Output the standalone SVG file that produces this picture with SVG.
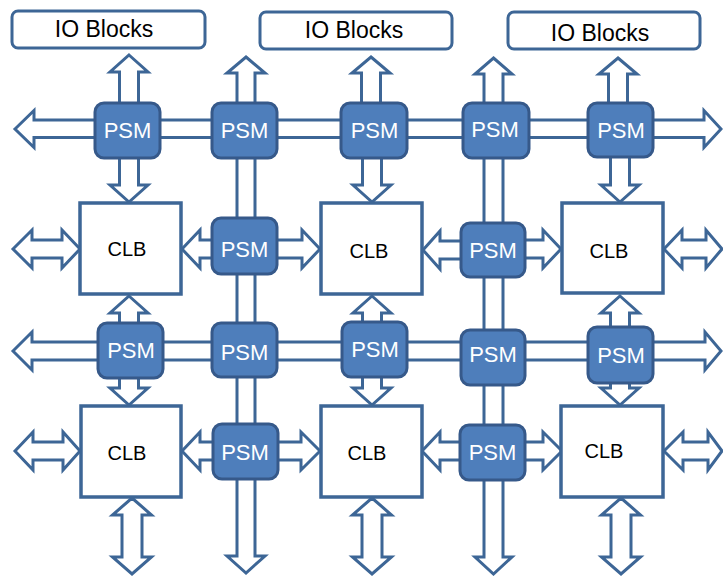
<svg xmlns="http://www.w3.org/2000/svg" width="723" height="576" viewBox="0 0 723 576">
<style>
.bg{fill:#ffffff}
.ar{fill:#ffffff;stroke:#3D6696;stroke-width:3;stroke-linejoin:miter}
.clb{fill:#ffffff;stroke:#3D6696;stroke-width:3.5}
.io{fill:#ffffff;stroke:#3D6696;stroke-width:3}
.psm{fill:#4E7EBB;stroke:#36598A;stroke-width:3}
.tp{font-family:"Liberation Sans",Arial,sans-serif;font-size:22px;fill:#ffffff;text-anchor:middle}
.tc{font-family:"Liberation Sans",Arial,sans-serif;font-size:20px;fill:#000000;text-anchor:middle}
.ti{font-family:"Liberation Sans",Arial,sans-serif;font-size:23px;fill:#000000;text-anchor:middle}
</style>
<rect class="bg" x="0" y="0" width="723" height="576"/>
<g id="connectors">
<path class="ar" d="M15,129 L34,110.5 L34,120 L704,120 L704,110.5 L721,129 L704,147.5 L704,137.5 L34,137.5 L34,147.5 Z"/>
<path class="ar" d="M13,351 L32,332 L32,342 L705,342 L705,332 L721,351 L705,370 L705,360 L32,360 L32,370 Z"/>
<path class="ar" d="M246,57 L265,73 L255,73 L255,556 L265,556 L246,573 L227,556 L237,556 L237,73 L227,73 Z"/>
<path class="ar" d="M493.5,58 L512,74 L503,74 L503,557 L512,557 L493.5,574 L475,557 L484,557 L484,74 L475,74 Z"/>
<path class="ar" d="M129,55 L148,72 L138.5,72 L138.5,115 L119.5,115 L119.5,72 L110,72 Z"/>
<path class="ar" d="M119.5,150 L138.5,150 L138.5,185 L148,185 L129,202 L110,185 L119.5,185 Z"/>
<path class="ar" d="M129,296 L148,313 L138.5,313 L138.5,330 L119.5,330 L119.5,313 L110,313 Z"/>
<path class="ar" d="M119.5,370 L138.5,370 L138.5,388 L148,388 L129,405 L110,388 L119.5,388 Z"/>
<path class="ar" d="M132,498 L151.5,515 L142,515 L142,557 L151.5,557 L132,574 L112.5,557 L122,557 L122,515 L112.5,515 Z"/>
<path class="ar" d="M371,57 L390,73 L380.5,73 L380.5,115 L361.5,115 L361.5,73 L352,73 Z"/>
<path class="ar" d="M362.5,150 L381.5,150 L381.5,185 L391,185 L372,202 L353,185 L362.5,185 Z"/>
<path class="ar" d="M372,296 L391,313 L381.5,313 L381.5,330 L362.5,330 L362.5,313 L353,313 Z"/>
<path class="ar" d="M362.5,370 L381.5,370 L381.5,388 L391,388 L372,405 L353,388 L362.5,388 Z"/>
<path class="ar" d="M372,498 L391.5,515 L382,515 L382,557 L391.5,557 L372,574 L352.5,557 L362,557 L362,515 L352.5,515 Z"/>
<path class="ar" d="M618,58 L637,74 L627.5,74 L627.5,115 L608.5,115 L608.5,74 L599,74 Z"/>
<path class="ar" d="M610.5,150 L629.5,150 L629.5,185 L639,185 L620,202 L601,185 L610.5,185 Z"/>
<path class="ar" d="M620,296 L639,313 L629.5,313 L629.5,335 L610.5,335 L610.5,313 L601,313 Z"/>
<path class="ar" d="M610.5,375 L629.5,375 L629.5,388 L639,388 L620,405 L601,388 L610.5,388 Z"/>
<path class="ar" d="M621,498 L640.5,515 L631,515 L631,557 L640.5,557 L621,574 L601.5,557 L611,557 L611,515 L601.5,515 Z"/>
<path class="ar" d="M13,249 L32,230 L32,240 L62,240 L62,230 L80,249 L62,268 L62,258 L32,258 L32,268 Z"/>
<path class="ar" d="M182,249 L200,230 L200,240 L220,240 L220,258 L200,258 L200,268 Z"/>
<path class="ar" d="M270,240 L302,240 L302,230 L320,249 L302,268 L302,258 L270,258 Z"/>
<path class="ar" d="M423,250 L440,231 L440,241 L468,241 L468,259 L440,259 L440,269 Z"/>
<path class="ar" d="M518,240 L543,240 L543,230 L561,249 L543,268 L543,258 L518,258 Z"/>
<path class="ar" d="M664,249 L682,230 L682,240 L706,240 L706,230 L722,249 L706,268 L706,258 L682,258 L682,268 Z"/>
<path class="ar" d="M15,451 L33,432 L33,442 L63,442 L63,432 L80,451 L63,470 L63,460 L33,460 L33,470 Z"/>
<path class="ar" d="M182,451 L200,432 L200,442 L220,442 L220,460 L200,460 L200,470 Z"/>
<path class="ar" d="M270,442 L301,442 L301,432 L320,451 L301,470 L301,460 L270,460 Z"/>
<path class="ar" d="M422,451 L440,432 L440,442 L468,442 L468,460 L440,460 L440,470 Z"/>
<path class="ar" d="M518,442 L543,442 L543,432 L562,451 L543,470 L543,460 L518,460 Z"/>
<path class="ar" d="M664,451 L683,432 L683,442 L708,442 L708,432 L722,451 L708,470 L708,460 L683,460 L683,470 Z"/>
</g>
<g id="io1"><rect class="io" x="12" y="11" width="193" height="37" rx="6"/><text class="ti" x="104" y="37">IO Blocks</text></g>
<g id="io2"><rect class="io" x="260" y="12" width="192" height="37" rx="6"/><text class="ti" x="354" y="38">IO Blocks</text></g>
<g id="io3"><rect class="io" x="508" y="12" width="192" height="37" rx="6"/><text class="ti" x="600" y="41">IO Blocks</text></g>
<g id="clb1"><rect class="clb" x="80" y="203" width="101" height="91"/><text class="tc" x="127" y="256">CLB</text></g>
<g id="clb2"><rect class="clb" x="321" y="203" width="101" height="91"/><text class="tc" x="369" y="258">CLB</text></g>
<g id="clb3"><rect class="clb" x="562" y="203" width="101" height="90"/><text class="tc" x="609" y="258">CLB</text></g>
<g id="clb4"><rect class="clb" x="81" y="406" width="100" height="91"/><text class="tc" x="127" y="460">CLB</text></g>
<g id="clb5"><rect class="clb" x="321" y="406" width="101" height="91"/><text class="tc" x="367" y="460">CLB</text></g>
<g id="clb6"><rect class="clb" x="561" y="406" width="102" height="91"/><text class="tc" x="604" y="458">CLB</text></g>
<g id="psm11"><rect class="psm" x="95" y="103" width="65" height="55" rx="9"/><text class="tp" x="127.5" y="138">PSM</text></g>
<g id="psm12"><rect class="psm" x="212" y="103" width="65" height="55" rx="9"/><text class="tp" x="244.5" y="138">PSM</text></g>
<g id="psm13"><rect class="psm" x="341" y="103" width="66" height="55" rx="9"/><text class="tp" x="374.5" y="138">PSM</text></g>
<g id="psm14"><rect class="psm" x="463" y="103" width="66" height="55" rx="9"/><text class="tp" x="495" y="137">PSM</text></g>
<g id="psm15"><rect class="psm" x="588" y="103" width="65" height="54" rx="9"/><text class="tp" x="621" y="138">PSM</text></g>
<g id="psm22"><rect class="psm" x="212" y="218" width="65" height="56" rx="9"/><text class="tp" x="244.5" y="257">PSM</text></g>
<g id="psm24"><rect class="psm" x="461" y="223" width="64" height="54" rx="9"/><text class="tp" x="493" y="258">PSM</text></g>
<g id="psm31"><rect class="psm" x="98" y="323" width="65" height="55" rx="9"/><text class="tp" x="131" y="358">PSM</text></g>
<g id="psm32"><rect class="psm" x="212" y="323" width="65" height="54" rx="9"/><text class="tp" x="244.5" y="360">PSM</text></g>
<g id="psm33"><rect class="psm" x="342" y="322" width="65" height="55" rx="9"/><text class="tp" x="375" y="357">PSM</text></g>
<g id="psm34"><rect class="psm" x="461" y="330" width="64" height="55" rx="9"/><text class="tp" x="493" y="362">PSM</text></g>
<g id="psm35"><rect class="psm" x="588" y="327" width="65" height="56" rx="9"/><text class="tp" x="621" y="363">PSM</text></g>
<g id="psm42"><rect class="psm" x="213" y="424" width="65" height="55" rx="9"/><text class="tp" x="245" y="460">PSM</text></g>
<g id="psm44"><rect class="psm" x="460" y="425" width="65" height="55" rx="9"/><text class="tp" x="492.5" y="460">PSM</text></g>
</svg>
